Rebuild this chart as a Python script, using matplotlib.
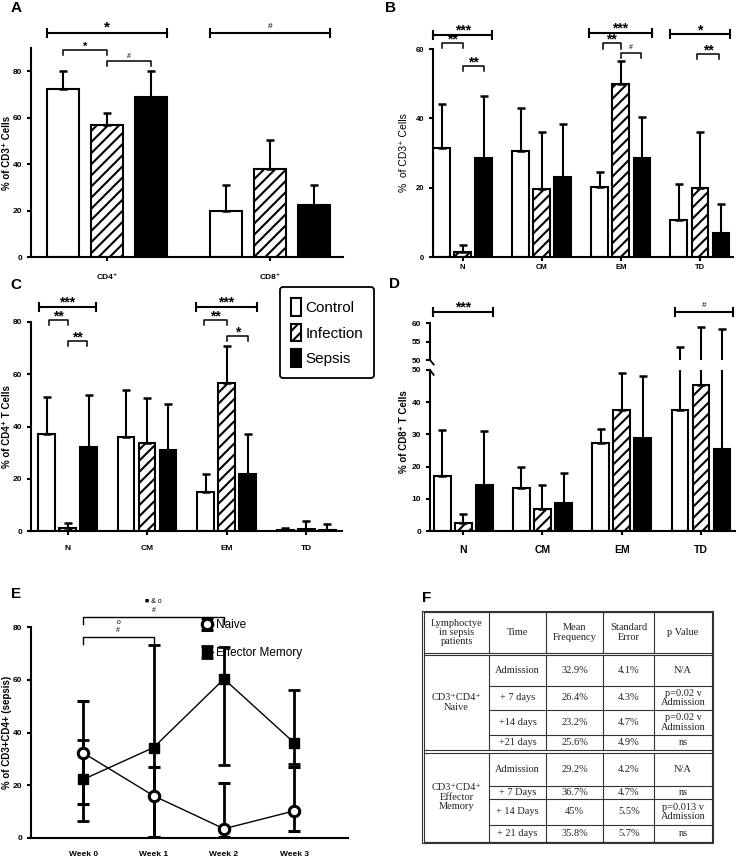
import numpy as np
import matplotlib
matplotlib.use('Agg')
import matplotlib.pyplot as plt
from matplotlib.patches import Patch

plt.rcParams['font.family'] = ['Liberation Sans', 'DejaVu Sans']
plt.rcParams['hatch.linewidth'] = 1.5
plt.rcParams['axes.linewidth'] = 1.5

W, H = 739, 860

# ---- data ----
# panel A : CD4+ / CD8+ as % of CD3+
a_groups = ['CD4⁺', 'CD8⁺']
a_control = [72.5, 20.0]
a_control_err = [7.5, 11.0]
a_infection = [57.0, 38.0]
a_infection_err = [5.0, 12.5]
a_sepsis = [69.0, 22.5]
a_sepsis_err = [11.0, 8.5]

subsets = ['N', 'CM', 'EM', 'TD']

# panel B : % of CD3+ cells
b_control = [31.5, 30.5, 20.3, 10.8]
b_control_err = [12.5, 12.5, 4.2, 10.2]
b_infection = [1.5, 19.5, 50.0, 19.8]
b_infection_err = [2.0, 16.5, 6.5, 16.2]
b_sepsis = [28.5, 23.0, 28.5, 7.0]
b_sepsis_err = [18.0, 15.5, 12.0, 8.2]

# panel C : % of CD4+ T cells
c_control = [37.3, 36.0, 15.0, 0.5]
c_control_err = [14.0, 18.0, 7.0, 0.8]
c_infection = [1.0, 33.8, 56.5, 0.8]
c_infection_err = [2.0, 17.0, 14.3, 3.2]
c_sepsis = [32.0, 31.0, 22.0, 0.5]
c_sepsis_err = [20.0, 17.5, 15.3, 2.3]

# panel D : % of CD8+ T cells
d_control = [17.0, 13.3, 27.2, 37.5]
d_control_err = [14.5, 6.7, 4.6, 16.0]
d_infection = [2.5, 6.7, 37.5, 45.2]
d_infection_err = [2.7, 7.6, 11.5, 13.8]
d_sepsis = [14.2, 8.6, 29.0, 25.4]
d_sepsis_err = [17.0, 9.4, 19.0, 33.1]

# panel E : sepsis time course
weeks = ['Week 0', 'Week 1', 'Week 2', 'Week 3']
naive = [32.3, 16.0, 3.5, 10.3]
naive_lo = [19.3, 15.5, 3.0, 7.8]
naive_hi = [19.7, 10.8, 17.3, 16.7]
em = [22.2, 34.3, 60.3, 36.0]
em_lo = [15.7, 33.8, 32.8, 8.0]
em_hi = [15.1, 38.7, 12.2, 20.0]

# panel F : table
t_header = ['Lymphoctye\nin sepsis\npatients', 'Time', 'Mean\nFrequency', 'Standard\nError', 'p Value']
t_groups = ['CD3⁺CD4⁺\nNaive', 'CD3⁺CD4⁺\nEffector\nMemory']
t_time = ['Admission', '+ 7 days', '+14 days', '+21 days',
          'Admission', '+ 7 Days', '+ 14 Days', '+ 21 days']
t_mean = ['32.9%', '26.4%', '23.2%', '25.6%', '29.2%', '36.7%', '45%', '35.8%']
t_se = ['4.1%', '4.3%', '4.7%', '4.9%', '4.2%', '4.7%', '5.5%', '5.7%']
t_p = ['N/A', 'p=0.02 v\nAdmission', 'p=0.02 v\nAdmission', 'ns',
       'N/A', 'ns', 'p=0.013 v\nAdmission', 'ns']

fig = plt.figure(figsize=(W / 100, H / 100), dpi=100)
fig.patch.set_facecolor('white')


def ax_px(x0, y0, x1, y1):
    return fig.add_axes([x0 / W, 1 - y1 / H, (x1 - x0) / W, (y1 - y0) / H])


def style(ax, ticksize=6):
    for s in ['top', 'right']:
        ax.spines[s].set_visible(False)
    ax.tick_params(axis='both', width=1.5, length=3, labelsize=ticksize)
    for lab in ax.get_yticklabels():
        lab.set_fontweight('bold')


def bars(ax, vals, errs, off, width):
    x = np.arange(len(vals[0]))
    styles = [dict(color='white'), dict(color='white', hatch='///'), dict(color='black')]
    for i in range(3):
        ax.bar(x + off[i], vals[i], width, yerr=[np.zeros(len(x)), errs[i]],
               edgecolor='black', linewidth=1.5, **styles[i],
               error_kw=dict(ecolor='black', elinewidth=1.5, capsize=3.2, capthick=1.8))


def bracket(ax, x0, x1, y, txt, kind='down', drop=2.0, fs=10, weight='bold', dy=1):
    if kind == 'cap':
        ax.plot([x0, x1], [y, y], color='black', lw=1.5, marker='|', ms=7, mew=1.5,
                clip_on=False)
    else:
        ax.plot([x0, x0, x1, x1], [y - drop, y, y, y - drop], color='black', lw=1.1,
                clip_on=False)
    ax.annotate(txt, ((x0 + x1) / 2, y), xytext=(0, dy), textcoords='offset points',
                ha='center', va='bottom', fontsize=fs, fontweight=weight,
                annotation_clip=False)


def ylab(ax, text, px_right, ax_left, ax_width, y=0.5, **kw):
    ax.set_ylabel(text, **kw)
    ax.yaxis.set_label_coords((px_right - ax_left) / ax_width, y)


# ---------- A ----------
ax = ax_px(31, 48, 343, 257)
w, o = 0.2, 0.27
bars(ax, [a_control, a_infection, a_sepsis],
     [a_control_err, a_infection_err, a_sepsis_err], [-o, 0, o], w)
ax.set_xlim(-0.466, 1.448)
ax.set_ylim(0, 90)
ax.set_yticks([0, 20, 40, 60, 80])
ax.set_xticks([0, 1])
ax.set_xticklabels(a_groups, fontsize=7.5, fontweight='bold')
style(ax)
ax.tick_params(axis='x', pad=9)
ylab(ax, '% of CD3⁺ Cells', 12, 31, 312, fontsize=7, fontweight='bold')
bracket(ax, -0.37, 0.37, 96.4, '*', kind='cap', fs=11, dy=-1)
bracket(ax, 0.63, 1.37, 96.4, '#', kind='cap', fs=6, weight='normal', dy=2)
bracket(ax, -o, 0, 89, '*', fs=8, dy=-1)
bracket(ax, 0, o, 84.4, '#', fs=5, weight='normal')

# ---------- B ----------
ax = ax_px(433, 49, 733, 257)
w, o = 0.21, 0.266
bars(ax, [b_control, b_infection, b_sepsis],
     [b_control_err, b_infection_err, b_sepsis_err], [-o, 0, o], w)
ax.set_xlim(-0.376, 3.42)
ax.set_ylim(0, 60)
ax.set_yticks([0, 20, 40, 60])
ax.set_xticks(range(4))
ax.set_xticklabels(subsets, fontsize=7.5, fontweight='bold')
style(ax, 5.5)
ax.tick_params(axis='x', pad=2)
ylab(ax, '%  of CD3⁺ Cells', 409, 433, 300, fontsize=7.5)
bracket(ax, -0.37, 0.37, 64, '***', kind='cap', fs=10, dy=-2)
bracket(ax, -o, 0, 61.7, '**', fs=10, dy=-2.5, drop=1.5)
bracket(ax, 0, o, 55.2, '**', fs=10, dy=-2.5, drop=1.5)
bracket(ax, 1.6, 2.39, 64.7, '***', kind='cap', fs=10, dy=-2)
bracket(ax, 1.77, 2.0, 61.6, '**', fs=10, dy=-2.5, drop=1.5)
bracket(ax, 2.0, 2.25, 58.9, '#', fs=5, weight='normal', drop=1.5)
bracket(ax, 2.62, 3.38, 64.2, '*', kind='cap', fs=10, dy=-2)
bracket(ax, 2.97, 3.24, 58.5, '**', fs=10, dy=-2.5, drop=1.5)

# ---------- C ----------
ax = ax_px(31, 322, 342, 531)
w, o = 0.21, 0.264
bars(ax, [c_control, c_infection, c_sepsis],
     [c_control_err, c_infection_err, c_sepsis_err], [-o, 0, o], w)
ax.set_xlim(-0.46, 3.45)
ax.set_ylim(0, 80)
ax.set_yticks([0, 20, 40, 60, 80])
ax.set_xticks(range(4))
ax.set_xticklabels(subsets, fontsize=7.5, fontweight='bold')
style(ax)
ax.tick_params(axis='x', pad=7)
ylab(ax, '% of CD4⁺ T Cells', 12, 31, 311, fontsize=7, fontweight='bold')
bracket(ax, -0.357, 0.352, 85.9, '***', kind='cap', fs=10, dy=-2)
bracket(ax, -0.235, 0, 80.8, '**', fs=10, dy=-2.5, drop=2)
bracket(ax, 0, 0.247, 72.8, '**', fs=10, dy=-2.5, drop=2)
bracket(ax, 1.61, 2.38, 85.9, '***', kind='cap', fs=10, dy=-2)
bracket(ax, 1.72, 2.0, 80.8, '**', fs=10, dy=-2.5, drop=2)
bracket(ax, 2.0, 2.27, 74.6, '*', fs=10, dy=-2.5, drop=2)

handles = [Patch(facecolor='white', edgecolor='black', lw=1.5),
           Patch(facecolor='white', edgecolor='black', lw=1.5, hatch='///'),
           Patch(facecolor='black', edgecolor='black', lw=1.5)]
leg = fig.legend(handles, ['Control', 'Infection', 'Sepsis'], loc='upper left',
                 bbox_to_anchor=(280 / W, 1 - 287 / H), fontsize=11,
                 handlelength=0.6, handleheight=1.4, handletextpad=0.3,
                 labelspacing=0.5, borderpad=0.75, borderaxespad=0,
                 fancybox=True, framealpha=1, edgecolor='black')
leg.get_frame().set_linewidth(1.3)

# ---------- D (broken axis) ----------
axl = ax_px(430, 370, 735, 531)
axu = ax_px(430, 323, 735, 360)
w, o = 0.21, 0.266
for a in (axl, axu):
    bars(a, [d_control, d_infection, d_sepsis],
         [d_control_err, d_infection_err, d_sepsis_err], [-o, 0, o], w)
    a.set_xlim(-0.42, 3.43)
    style(a)
axl.set_ylim(0, 50)
axl.set_yticks([0, 10, 20, 30, 40, 50])
axu.set_ylim(50, 60)
axu.set_yticks([50, 55, 60])
for lab in axu.get_yticklabels() + axl.get_yticklabels():
    lab.set_fontweight('bold')
axu.spines['bottom'].set_visible(False)
axu.set_xticks([])
axl.set_xticks(range(4))
axl.set_xticklabels(subsets, fontsize=7.5, fontweight='bold')
axl.tick_params(axis='x', pad=7)
ylab(axl, '% of CD8⁺ T Cells', 409, 430, 305, y=0.62, fontsize=7, fontweight='bold')
# break marks
kw = dict(color='black', lw=1.3, clip_on=False)
axu.plot([0, 0.012], [0.0, -0.12], transform=axu.transAxes, **kw)
axl.plot([0, 0.012], [1.0, 0.97], transform=axl.transAxes, **kw)
bracket(axu, -0.38, 0.38, 63.05, '***', kind='cap', fs=10, dy=-2)
bracket(axu, 2.67, 3.41, 63.05, '#', kind='cap', fs=6, weight='normal', dy=2)

# ---------- E ----------
ax = ax_px(31, 627, 348, 838)
x = np.arange(len(weeks))
h1 = ax.errorbar(x, naive, yerr=[naive_lo, naive_hi], color='black', lw=1,
                 marker='o', ms=7.5, mfc='white', mec='black', mew=2.2,
                 elinewidth=2, ecolor='black', capsize=4, capthick=2, label='Naive')
h2 = ax.errorbar(x, em, yerr=[em_lo, em_hi], color='black', lw=1,
                 marker='s', ms=6.5, mfc='black', mec='black',
                 elinewidth=2, ecolor='black', capsize=4, capthick=2,
                 label='Effector Memory')
ax.set_xlim(-0.74, 3.76)
ax.set_ylim(0, 80)
ax.set_yticks([0, 20, 40, 60, 80])
ax.set_xticks(x)
ax.set_xticklabels(weeks, fontsize=8, fontweight='bold')
style(ax)
ax.tick_params(axis='x', length=0, pad=9)
ylab(ax, '% of CD3+CD4+ (sepsis)', 12, 31, 317, fontsize=7, fontweight='bold')
ax.legend(handles=[h1, h2], loc='upper left', bbox_to_anchor=(196 / W, 1 - 613 / H),
          bbox_transform=fig.transFigure, frameon=False, fontsize=8.5,
          handlelength=0.9, handletextpad=0.3, labelspacing=1.35, borderpad=0)
for x0, x1, y, top, bot in [(0, 2, 83.8, '■ & o', '#'), (0, 1, 76.1, 'o', '#')]:
    ax.plot([x0, x0, x1, x1], [y - 2.5, y, y, y - 2.5], color='black', lw=1,
            clip_on=False)
    ax.text((x0 + x1) / 2, y + 1.2, bot, ha='center', va='bottom', fontsize=5)
    ax.text((x0 + x1) / 2, y + 4.4, top, ha='center', va='bottom', fontsize=5)

# ---------- panel letters ----------
for lt, px, py in [('A', 16, 8), ('B', 391, 8), ('C', 16, 285), ('D', 394, 284),
                   ('E', 16, 594), ('F', 427, 598)]:
    fig.text(px / W, 1 - py / H, lt, fontsize=11, fontweight='bold',
             ha='center', va='center')

# ---------- F table ----------
tb = fig.add_axes([0, 0, 1, 1])
tb.set_xlim(0, W)
tb.set_ylim(H, 0)
tb.axis('off')
lc = dict(color='#333333', lw=0.8)
cols = [424, 489.3, 546, 603.3, 654.3, 711.7]
tb.plot([422, 713.3, 713.3, 422, 422], [610.7, 610.7, 843.3, 843.3, 610.7], **lc)
tb.plot([424, 711.7, 711.7, 424, 424], [612.3, 612.3, 841.7, 841.7, 612.3], **lc)
sections = [(612.3, 652.7), (655, 750), (752.7, 841.7)]
for top, bot in sections:
    tb.plot([424, 711.7], [top, top], **lc)
    tb.plot([424, 711.7], [bot, bot], **lc)
    for cx in cols[1:5]:
        tb.plot([cx, cx], [top, bot], **lc)
row_lines = [686, 710, 735, 786, 799.3, 825]
for ry in row_lines:
    tb.plot([cols[1], cols[5]], [ry, ry], **lc)

tf = dict(family=['Liberation Serif', 'DejaVu Serif'], fontsize=7.5, ha='center',
          va='center', linespacing=1.05, color='#222222')
centers = [(cols[i] + cols[i + 1]) / 2 for i in range(5)]
for i, t in enumerate(t_header):
    tb.text(centers[i], 632.5, t, **tf)
tb.text(centers[0], 702.5, t_groups[0], **tf)
tb.text(centers[0], 797, t_groups[1], **tf)
row_y = [670.5, 698, 722.5, 742.5, 769, 792.7, 812, 833.3]
for i, ry in enumerate(row_y):
    tb.text(centers[1], ry, t_time[i], **tf)
    tb.text(centers[2], ry, t_mean[i], **tf)
    tb.text(centers[3], ry, t_se[i], **tf)
    tb.text(centers[4], ry, t_p[i], **tf)

fig.savefig('out.png', dpi=100, facecolor='white')
